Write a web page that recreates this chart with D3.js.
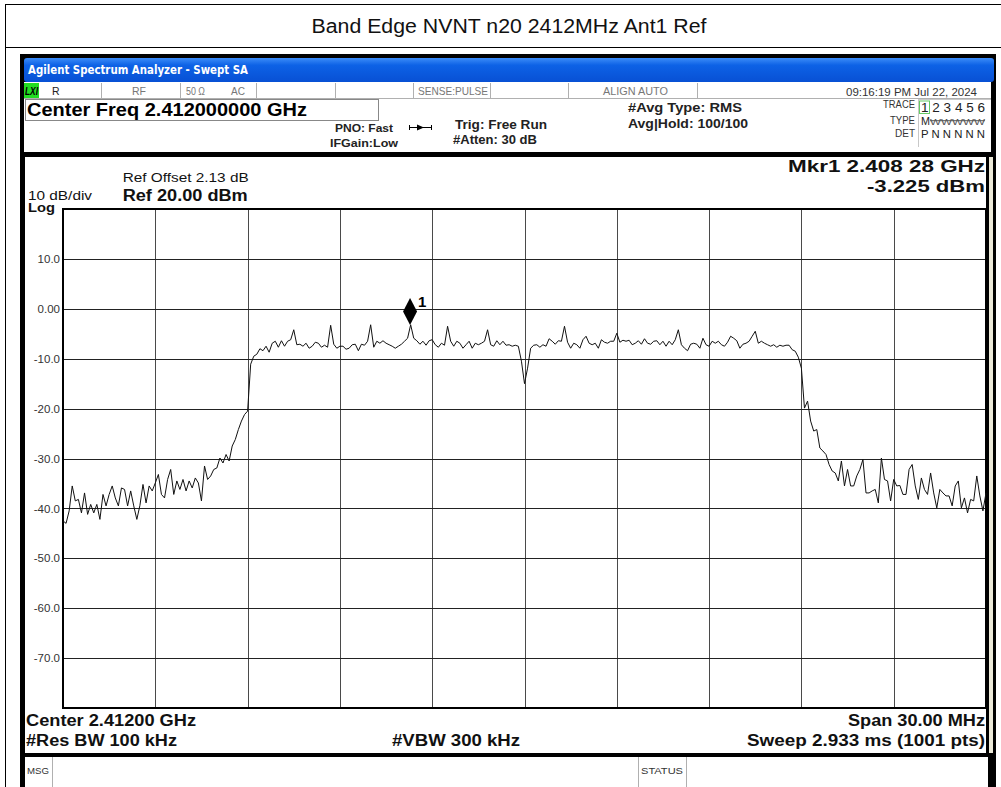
<!DOCTYPE html>
<html>
<head>
<meta charset="utf-8">
<script src="https://cdn.jsdelivr.net/npm/d3@7"></script>
<style>
body { margin: 0; background: #fff; }
svg { display: block; }
text { font-family: "Liberation Sans", Arial, sans-serif; }
</style>
</head>
<body>
<div id="chart"></div>
<script>
// sweep: 2397 .. 2427 MHz, values read every 0.1 MHz (dBm)
var startFreq = 2397, stopFreq = 2427, stepFreq = 0.1;
var levels = [
  -42.5, -43.0, -40.5, -35.5, -38.5, -38.2, -40.9, -36.9, -41.2, -39.2,
  -40.9, -39.2, -42.2, -37.2, -39.5, -37.2, -35.5, -37.9, -39.5, -35.9,
  -36.2, -39.5, -36.5, -39.5, -42.2, -39.4, -35.2, -38.9, -35.5, -36.5,
  -34.9, -33.2, -37.2, -37.9, -34.2, -32.2, -37.2, -34.5, -36.2, -34.2,
  -36.5, -34.5, -35.9, -33.9, -34.9, -38.5, -31.5, -34.2, -33.5, -32.2,
  -31.9, -29.9, -30.9, -29.2, -30.5, -27.5, -26.2, -24.2, -22.5, -21.2,
  -20.5, -11.1, -9.5, -9.1, -8.0, -8.4, -7.5, -8.7, -6.9, -6.5,
  -7.7, -6.4, -7.5, -6.5, -6.2, -4.2, -7.2, -7.1, -7.5, -6.9,
  -7.9, -7.5, -6.7, -6.9, -7.7, -7.3, -7.7, -3.3, -7.1, -7.9,
  -7.5, -7.5, -8.1, -7.9, -7.2, -7.1, -8.4, -7.1, -7.3, -6.5,
  -3.2, -7.7, -6.5, -6.9, -6.4, -6.9, -7.2, -7.5, -7.9, -7.5,
  -7.1, -6.5, -5.9, -3.2, -5.9, -6.4, -7.1, -6.5, -7.3, -6.4,
  -6.2, -7.2, -7.7, -6.9, -7.3, -3.5, -6.5, -7.5, -6.5, -6.9,
  -7.9, -7.2, -6.5, -7.9, -6.9, -7.2, -6.9, -6.5, -4.2, -7.2,
  -7.5, -6.4, -7.2, -6.5, -7.3, -7.2, -7.5, -7.3, -7.5, -10.5,
  -15.0, -11.9, -7.9, -7.3, -7.2, -7.7, -7.2, -7.5, -6.0, -6.5,
  -7.1, -6.4, -6.5, -3.5, -6.7, -7.9, -6.9, -7.2, -7.9, -6.2,
  -5.5, -6.9, -7.2, -6.9, -7.9, -6.2, -6.7, -6.9, -6.5, -6.5,
  -4.9, -6.7, -6.3, -6.5, -6.3, -7.2, -6.9, -6.4, -7.1, -6.0,
  -6.9, -7.1, -6.5, -6.4, -7.2, -6.5, -7.5, -6.5, -7.2, -6.2,
  -4.2, -7.2, -7.9, -8.4, -7.1, -6.9, -7.1, -7.9, -5.9, -7.2,
  -7.5, -6.5, -6.9, -6.5, -7.2, -7.5, -6.7, -5.5, -5.9, -6.4,
  -7.9, -7.1, -6.9, -6.5, -5.5, -4.5, -6.9, -6.5, -6.9, -7.2,
  -7.5, -7.2, -7.7, -7.3, -7.5, -7.3, -7.3, -8.2, -8.5, -9.7,
  -11.9, -19.9, -18.5, -22.5, -24.5, -24.2, -27.9, -28.5, -29.2, -31.2,
  -32.5, -32.9, -34.5, -30.5, -35.5, -32.2, -35.5, -35.5, -33.5, -32.2,
  -30.2, -36.9, -36.9, -36.5, -36.2, -38.9, -29.9, -34.2, -34.5, -38.5,
  -34.2, -35.5, -35.4, -37.2, -37.2, -32.2, -31.2, -35.5, -38.2, -33.9,
  -36.2, -37.2, -32.9, -36.9, -39.9, -36.2, -36.9, -37.5, -37.5, -39.5,
  -35.5, -34.5, -39.9, -37.9, -40.9, -38.2, -38.5, -33.5, -37.5, -40.5,
  -36.9
];
var yTicks = [10, 0, -10, -20, -30, -40, -50, -60, -70];
var yTickLabels = ["10.0", "0.00", "-10.0", "-20.0", "-30.0", "-40.0", "-50.0", "-60.0", "-70.0"];
var refLevel = 20, bottomLevel = -80;
var markerFreq = [2408.28];
var markerLevel = [-3.225];
var markerNames = ["1"];

var W = 1001, H = 787;
var svg = d3.select("#chart").append("svg").attr("width", W).attr("height", H);

function txt(s, x, y, o) {
  o = o || {};
  var t = svg.append("text").attr("x", x).attr("y", y).text(s)
    .attr("font-size", o.size || 12)
    .attr("font-weight", o.bold ? "bold" : "normal")
    .attr("fill", o.fill || "#000")
    .attr("text-anchor", o.anchor || "start");
  if (o.family) t.style("font-family", o.family);
  if (o.italic) t.attr("font-style", "italic");
  if (o.len) t.attr("textLength", o.len).attr("lengthAdjust", "spacingAndGlyphs");
  return t;
}
function hline(x1, x2, y, c, w) {
  svg.append("line").attr("x1", x1).attr("x2", x2).attr("y1", y).attr("y2", y).attr("stroke", c).attr("stroke-width", w || 1);
}
function vline(x, y1, y2, c, w) {
  svg.append("line").attr("x1", x).attr("x2", x).attr("y1", y1).attr("y2", y2).attr("stroke", c).attr("stroke-width", w || 1);
}

// report frame + title
vline(5.5, 4, H, "#000");
hline(5, W, 4.5, "#000");
hline(5, W, 47.5, "#000");
txt("Band Edge NVNT n20 2412MHz Ant1 Ref", 509, 33, { size: 19.5, anchor: "middle", len: 395, fill: "#111" });

// analyzer screenshot frame
svg.append("rect").attr("x", 20).attr("y", 54).attr("width", 976).attr("height", H - 54).attr("fill", "#000");
var grad = svg.append("defs").append("linearGradient").attr("id", "bar").attr("x1", 0).attr("x2", 0).attr("y1", 0).attr("y2", 1);
grad.append("stop").attr("offset", "0%").attr("stop-color", "#3c8cf8");
grad.append("stop").attr("offset", "30%").attr("stop-color", "#0d62e6");
grad.append("stop").attr("offset", "100%").attr("stop-color", "#0850d4");
svg.append("rect").attr("x", 24).attr("y", 58).attr("width", 970).attr("height", 24).attr("rx", 3).attr("fill", "url(#bar)");
txt("Agilent Spectrum Analyzer - Swept SA", 28, 74, { size: 12.5, bold: true, fill: "#fff", len: 220, family: "'DejaVu Sans', sans-serif" });

// header area
svg.append("rect").attr("x", 24).attr("y", 82).attr("width", 967).attr("height", 70).attr("fill", "#fff");
hline(24, 991, 98.5, "#b0b0b0");
[101.5, 180.5, 256.5, 335.5, 413.5, 490.5, 568.5, 697.5].forEach(function (x) { vline(x, 83, 98, "#b0b0b0"); });
svg.append("rect").attr("x", 24).attr("y", 83).attr("width", 15).attr("height", 15).attr("fill", "#22dd22");
txt("LXI", 25, 94.5, { size: 10, bold: true, italic: true, len: 13 });
txt("R", 52, 94.5, { size: 10.5, fill: "#222" });
txt("RF", 132, 94.5, { size: 10.5, fill: "#777", len: 14 });
txt("50 \u03a9", 186, 94.5, { size: 10.5, fill: "#777", len: 19 });
txt("AC", 231, 94.5, { size: 10.5, fill: "#777", len: 14 });
txt("SENSE:PULSE", 418, 94.5, { size: 10.5, fill: "#777", len: 70 });
txt("ALIGN AUTO", 603, 94.5, { size: 10.5, fill: "#777", len: 65 });
txt("09:16:19 PM Jul 22, 2024", 846, 95.5, { size: 11.5, fill: "#333", len: 131 });

svg.append("rect").attr("x", 25.5).attr("y", 99.5).attr("width", 353).attr("height", 21).attr("fill", "#fff").attr("stroke", "#888");
txt("Center Freq 2.412000000 GHz", 27, 115.5, { size: 18, bold: true, len: 280 });
txt("PNO: Fast", 335, 132, { size: 11.5, bold: true, fill: "#222", len: 58 });
txt("IFGain:Low", 330, 147, { size: 11.5, bold: true, fill: "#222", len: 68 });
hline(409, 432, 127.5, "#000");
vline(409.5, 125, 130, "#000");
vline(431.5, 125, 130, "#000");
svg.append("path").attr("d", "M417,124.5 L424,127.5 L417,130.5 Z").attr("fill", "#000");
txt("Trig: Free Run", 455, 128.5, { size: 12.5, bold: true, fill: "#222", len: 92 });
txt("#Atten: 30 dB", 453, 143.5, { size: 12.5, bold: true, fill: "#222", len: 84 });
txt("#Avg Type: RMS", 628, 112, { size: 12.5, bold: true, fill: "#222", len: 114 });
txt("Avg|Hold: 100/100", 628, 127.5, { size: 12.5, bold: true, fill: "#222", len: 120 });

// trace info block
hline(918, 991, 99.5, "#c8c8c8");
vline(918.5, 99, 147, "#c8c8c8");
svg.append("rect").attr("x", 919.5).attr("y", 101).attr("width", 10).attr("height", 12.5).attr("fill", "none").attr("stroke", "#66cc66");
txt("TRACE", 915, 108.3, { size: 10, fill: "#333", anchor: "end", len: 32 });
txt("TYPE", 915, 124, { size: 10, fill: "#333", anchor: "end", len: 25 });
txt("DET", 915, 137.3, { size: 10, fill: "#333", anchor: "end", len: 20 });
txt("1 2 3 4 5 6", 921, 112.3, { size: 12, fill: "#222", len: 64 });
txt("M", 921, 124.5, { size: 11, fill: "#222", len: 9 });
txt("WWWWW", 930, 124.5, { size: 9.5, fill: "#555", len: 55 });
hline(930, 985, 120.7, "#555");
txt("P  N N N N N", 921, 137.5, { size: 11, fill: "#222", len: 64 });

// measurement panel
svg.append("rect").attr("x", 25).attr("y", 157).attr("width", 961).attr("height", 596).attr("fill", "#fff");
svg.append("rect").attr("x", 989).attr("y", 157).attr("width", 4).attr("height", 596).attr("fill", "#ece9d8");
svg.append("rect").attr("x", 25).attr("y", 757).attr("width", 963).attr("height", H - 757).attr("fill", "#fff");
vline(52.5, 757, H, "#b0b0b0");
vline(638.5, 757, H, "#b0b0b0");
vline(686.5, 757, H, "#b0b0b0");
txt("MSG", 27, 774, { size: 9, fill: "#333", len: 22 });
txt("STATUS", 641, 774, { size: 9, fill: "#333", len: 42 });

txt("Ref Offset 2.13 dB", 122.7, 182, { size: 12.5, fill: "#111", len: 126 });
txt("Ref 20.00 dBm", 122.7, 200.5, { size: 16, bold: true, fill: "#111", len: 125 });
txt("10 dB/div", 28, 199.5, { size: 13, fill: "#111", len: 64 });
txt("Log", 28, 211.5, { size: 12.5, bold: true, fill: "#111", len: 27 });
txt("Mkr1 2.408 28 GHz", 985, 172, { size: 17, bold: true, fill: "#111", anchor: "end", len: 197 });
txt("-3.225 dBm", 985, 192, { size: 17, bold: true, fill: "#111", anchor: "end", len: 118 });

txt("Center 2.41200 GHz", 26, 726, { size: 16, bold: true, fill: "#111", len: 170 });
txt("#Res BW 100 kHz", 26, 746, { size: 16, bold: true, fill: "#111", len: 151 });
txt("#VBW 300 kHz", 392, 746, { size: 16, bold: true, fill: "#111", len: 128 });
txt("Span 30.00 MHz", 985, 726, { size: 16, bold: true, fill: "#111", anchor: "end", len: 137 });
txt("Sweep  2.933 ms (1001 pts)", 985, 746, { size: 16, bold: true, fill: "#111", anchor: "end", len: 238 });

// scales
var x = d3.scaleLinear().domain([startFreq, stopFreq]).range([63, 986]);
var y = d3.scaleLinear().domain([bottomLevel, refLevel]).range([708, 209]);

var g = svg.append("g");
var xGrid = d3.range(1, 10).map(function (k) { return startFreq + k * (stopFreq - startFreq) / 10; });
g.selectAll(".vg").data(xGrid).enter().append("line")
  .attr("x1", function (d) { return Math.round(x(d)) + 0.5; })
  .attr("x2", function (d) { return Math.round(x(d)) + 0.5; })
  .attr("y1", y(refLevel)).attr("y2", y(bottomLevel))
  .attr("stroke", "#4a4a4a");
g.selectAll(".hg").data(yTicks).enter().append("line")
  .attr("x1", x(startFreq)).attr("x2", x(stopFreq))
  .attr("y1", function (d) { return Math.round(y(d)) + 0.5; })
  .attr("y2", function (d) { return Math.round(y(d)) + 0.5; })
  .attr("stroke", "#222");
g.append("rect").attr("x", x(startFreq)).attr("y", y(refLevel))
  .attr("width", x(stopFreq) - x(startFreq)).attr("height", y(bottomLevel) - y(refLevel))
  .attr("fill", "none").attr("stroke", "#000").attr("stroke-width", 2);

var yAxis = d3.axisLeft(y).tickValues(yTicks).tickSize(0).tickPadding(3)
  .tickFormat(function (d, i) { return yTickLabels[i]; });
var ya = svg.append("g").attr("transform", "translate(" + x(startFreq) + ",0)").call(yAxis);
ya.select(".domain").remove();
ya.selectAll("text").attr("font-size", 11.5).attr("fill", "#333")
  .style("font-family", "'Liberation Sans', Arial, sans-serif");

// trace
var pts = levels.map(function (v, i) { return [startFreq + i * stepFreq, v]; });
var line = d3.line().x(function (d) { return x(d[0]); }).y(function (d) { return y(d[1]); });
g.append("path").datum(pts).attr("d", line).attr("fill", "none")
  .attr("stroke", "#111").attr("stroke-width", 1).attr("stroke-linejoin", "miter");

// marker
var mk = markerFreq.map(function (f, i) { return { f: f, v: markerLevel[i], n: markerNames[i] }; });
g.selectAll(".mk").data(mk).enter().append("path")
  .attr("d", function (d) {
    var cx = x(d.f), cy = y(d.v);
    return "M" + cx + "," + (cy - 27) + " L" + (cx + 7) + "," + (cy - 13.5) + " L" + cx + "," + cy + " L" + (cx - 7) + "," + (cy - 13.5) + " Z";
  })
  .attr("fill", "#000");
g.selectAll(".mkl").data(mk).enter().append("text")
  .attr("x", function (d) { return x(d.f) + 8; })
  .attr("y", function (d) { return y(d.v) - 18; })
  .attr("font-size", 15).attr("font-weight", "bold").attr("fill", "#000")
  .text(function (d) { return d.n; });
</script>
</body>
</html>
